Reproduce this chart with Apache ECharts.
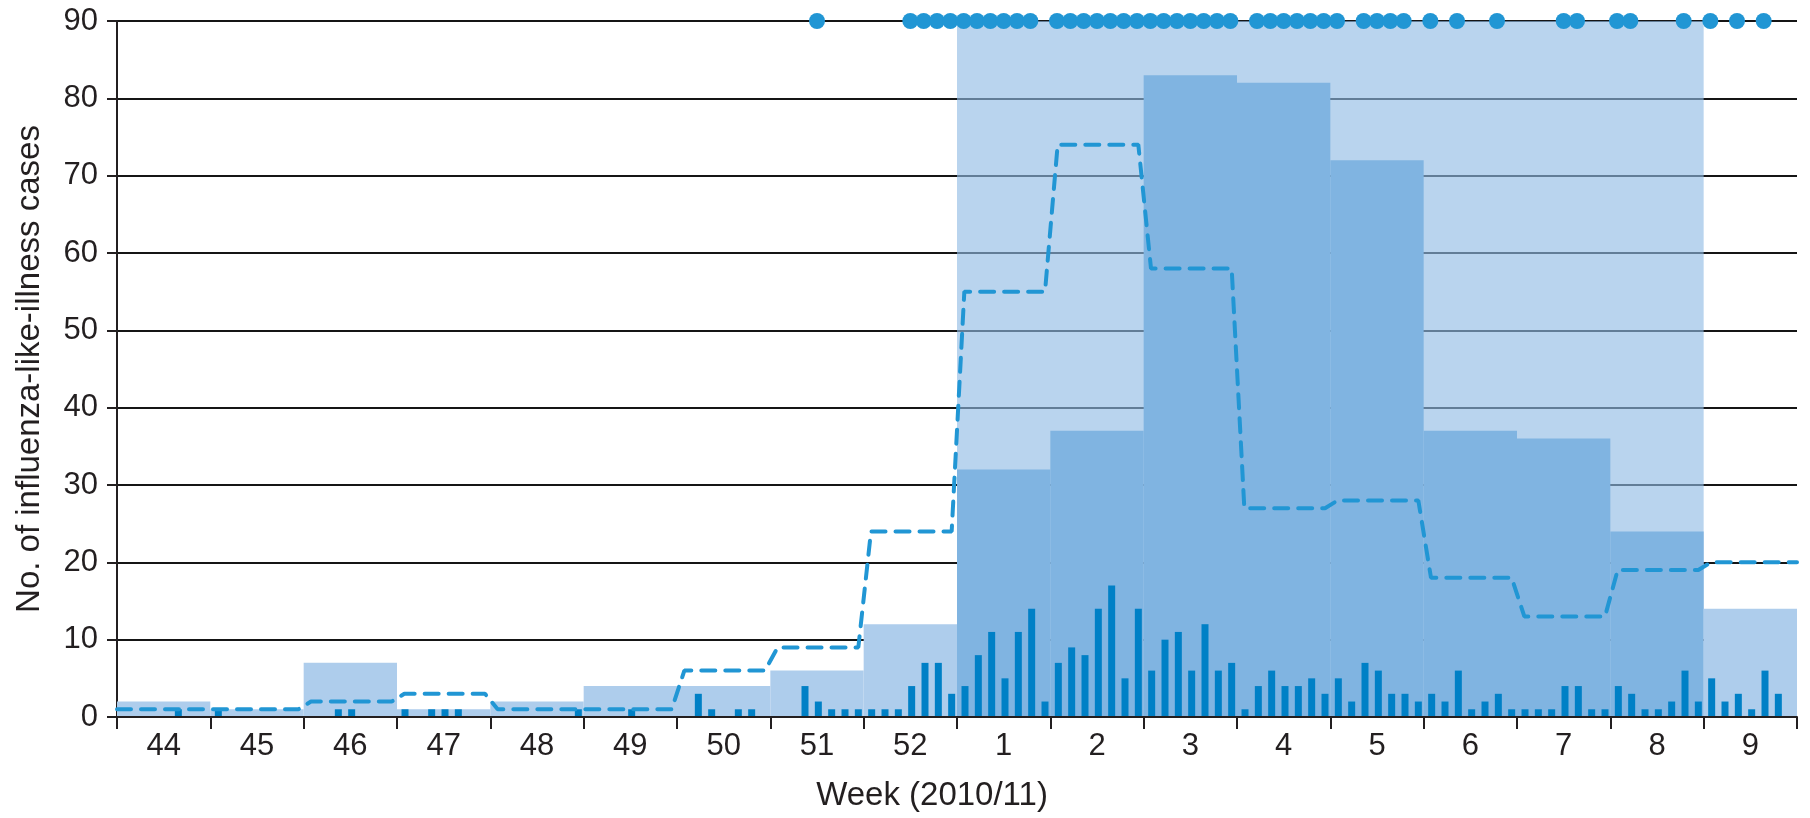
<!DOCTYPE html>
<html>
<head>
<meta charset="utf-8">
<script src="https://cdn.jsdelivr.net/npm/echarts@6/dist/echarts.min.js"></script>
<style>
html,body{margin:0;padding:0;background:#fff;}
#chart{width:1810px;height:818px;}
</style>
</head>
<body>
<div id="chart"></div>
<script>
// ---- data ----
const weeks = ['44','45','46','47','48','49','50','51','52','1','2','3','4','5','6','7','8','9'];
// weekly ILI cases (wide bars)
const weeklyCases = [2, 1, 7, 1, 2, 4, 4, 6, 12, 32, 37, 83, 82, 72, 37, 36, 24, 14];
// weekly totals of daily reports (dashed line)
const dailyTotals = [1, 1, 2, 3, 1, 1, 6, 9, 24, 55, 74, 58, 27, 28, 18, 13, 19, 20];
// daily cases per week (narrow bars), 7 days per week
const dailyCases = [
  [0,0,0,0,1,0,0],
  [1,0,0,0,0,0,0],
  [0,0,1,1,0,0,0],
  [1,0,1,1,1,0,0],
  [0,0,0,0,0,0,1],
  [0,0,0,1,0,0,0],
  [0,3,1,0,1,1,0],
  [0,0,4,2,1,1,1],
  [1,1,1,4,7,7,3],
  [4,8,11,5,11,14,2],
  [7,9,8,14,17,5,14],
  [6,10,11,6,12,6,7],
  [1,4,6,4,4,5,3],
  [5,2,7,6,3,3,2],
  [3,2,6,1,2,3,1],
  [1,1,1,4,4,1,1],
  [4,3,1,1,2,6,2],
  [5,2,3,1,6,3,0]
];
// days (counted from the first day of week 44) marked with a dot
const alertDays = [52, 59,60,61,62,63,64,65,66,67,68, 70,71,72,73,74,75,76,77,78,79,80,81,82,83,
  85,86,87,88,89,90,91, 93,94,95,96, 98, 100, 103, 108,109, 112,113, 117, 119, 121, 123];
// epidemic period: first and last week index (week 1 .. week 8)
const epidemicWeeks = [9, 16];
const yMax = 90, yInterval = 10;

// ---- build ----
const DAYS = 7;
const nDays = weeks.length * DAYS;
const dailyData = [];
dailyCases.forEach((wk, i) => wk.forEach((v, j) => { if (v > 0) dailyData.push([i * DAYS + j + 0.6, v]); }));
const lineData = [];
dailyTotals.forEach((v, i) => {
  const s = i * DAYS + (i === 0 ? 0 : 0.55);
  const e = (i + 1) * DAYS - (i === weeks.length - 1 ? 0 : 0.4);
  lineData.push([s, v], [e, v]);
});
const dotData = alertDays.map(d => [d + 0.5, yMax]);
const shadeData = [[epidemicWeeks[0] * DAYS, (epidemicWeeks[1] + 1) * DAYS]];
const weeklyData = weeklyCases.map((v, i) => ({
  value: v,
  itemStyle: { color: (i >= epidemicWeeks[0] && i <= epidemicWeeks[1]) ? '#80b4e1' : '#aecdec' }
}));

const TXT = '#231f20';
const FONT = "'Liberation Sans', Arial, Helvetica, sans-serif";
const chart = echarts.init(document.getElementById('chart'));
chart.setOption({
  animation: false,
  backgroundColor: '#fff',
  grid: { left: 117, right: 13, top: 21, bottom: 101, containLabel: false },
  xAxis: [
    {
      type: 'category', data: weeks, boundaryGap: true, z: 10,
      name: 'Week (2010/11)', nameLocation: 'middle', nameGap: 62,
      nameTextStyle: { fontSize: 33, color: TXT, fontFamily: FONT, padding: [0, 50, 0, 0] },
      axisLine: { show: true, lineStyle: { color: TXT, width: 2 } },
      axisTick: { show: true, interval: 0, length: 12, lineStyle: { color: TXT, width: 2 } },
      axisLabel: { interval: 0, fontSize: 31, color: TXT, fontFamily: FONT, margin: 14 },
      splitLine: { show: false }
    },
    { type: 'value', min: 0, max: nDays, show: false }
  ],
  yAxis: {
    type: 'value', min: 0, max: yMax, interval: yInterval,
    name: 'No. of influenza-like-illness cases', nameLocation: 'middle', nameGap: 71,
    nameTextStyle: { fontSize: 33, color: TXT, fontFamily: FONT },
    axisLine: { show: true, lineStyle: { color: TXT, width: 2 } },
    axisTick: { show: true, length: 10, lineStyle: { color: TXT, width: 2 } },
    axisLabel: { fontSize: 31, color: TXT, fontFamily: FONT, margin: 19 },
    splitLine: { show: true, lineStyle: { color: '#151515', width: 2 } }
  },
  series: [
    {
      type: 'custom', xAxisIndex: 1, z: 2, silent: true,
      data: shadeData,
      encode: { x: [0, 1] },
      renderItem: function (params, api) {
        const p0 = api.coord([api.value(0), yMax]);
        const p1 = api.coord([api.value(1), 0]);
        return { type: 'rect', shape: { x: p0[0], y: p0[1], width: p1[0] - p0[0], height: p1[1] - p0[1] },
                 style: { fill: 'rgba(144,187,228,0.63)' } };
      }
    },
    {
      type: 'bar', xAxisIndex: 0, z: 3, barWidth: '100%', data: weeklyData
    },
    {
      type: 'bar', xAxisIndex: 1, z: 4, barWidth: 7, data: dailyData,
      itemStyle: { color: '#0080c6' }
    },
    {
      type: 'line', xAxisIndex: 1, z: 5, data: lineData, symbol: 'none',
      lineStyle: { color: '#2196d4', width: 4, type: [14, 10], cap: 'round' }
    },
    {
      type: 'scatter', xAxisIndex: 1, z: 6, data: dotData, symbolSize: 16, clip: false,
      itemStyle: { color: '#2196d4', opacity: 1 }
    }
  ]
});
</script>
</body>
</html>
